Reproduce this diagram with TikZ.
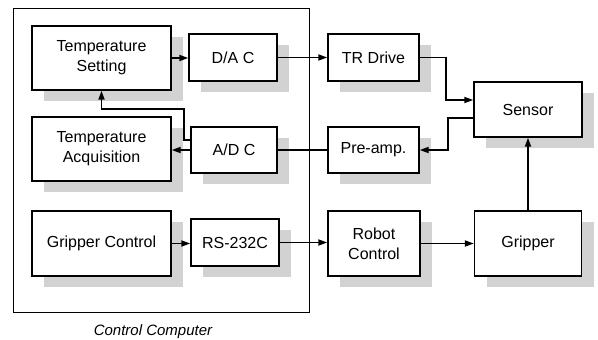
\documentclass[tikz,border=0pt]{standalone}
\usepackage{fontspec}
\setmainfont{Liberation Sans}
\usetikzlibrary{arrows.meta,shadows}

\begin{document}
\begin{tikzpicture}[x=1pt,y=-1pt,
	font=\fontsize{16}{20}\selectfont,
	block/.style={draw,line width=1.4pt,fill=white,align=center,inner sep=0pt,
		drop shadow={shadow xshift=12pt,shadow yshift=-11pt,fill=gray!35,opacity=1}},
	sig/.style={line width=1.7pt,-{Triangle[length=9pt,width=6pt]}}]
	\useasboundingbox (0,0) rectangle (598,340);
	\draw[line width=1pt] (13,8) rectangle (309,312);
	\node[font=\fontsize{15}{18}\selectfont\itshape] (cc) at (153,332) {Control Computer};
	\node[block,minimum width=139pt,minimum height=64pt] (tset) at (101.5,58) {Temperature\\Setting};
	\node[block,minimum width=139pt,minimum height=64pt] (tacq) at (101.5,149) {Temperature\\Acquisition};
	\node[block,minimum width=139pt,minimum height=65pt] (gctl) at (101.5,243.5) {Gripper Control};
	\node[block,minimum width=88pt,minimum height=47pt] (dac) at (233,57.5) {D/A C};
	\node[block,minimum width=86pt,minimum height=46pt] (adc) at (234,150) {A/D C};
	\node[block,minimum width=88pt,minimum height=47pt] (rs) at (235,242.5) {RS-232C};
	\node[block,minimum width=91pt,minimum height=47pt] (trd) at (373.5,57.5) {TR Drive};
	\node[block,minimum width=91pt,minimum height=46pt] (pre) at (373.5,150) {Pre-amp.};
	\node[block,minimum width=92pt,minimum height=65pt] (robot) at (374,243.5) {Robot\\Control};
	\node[block,minimum width=108pt,minimum height=55pt] (sensor) at (528,109.5) {Sensor};
	\node[block,minimum width=107pt,minimum height=65pt] (gripper) at (528,243.5) {Gripper};
	\draw[sig] (tset.east) -- (tset.east -| dac.west);
	\draw[sig] (dac.east) -- (trd.west);
	\draw[sig] (trd.east) -| ([xshift=-27pt,yshift=9.5pt]sensor.west) -- ([yshift=9.5pt]sensor.west);
	\draw[sig] ([yshift=-8.5pt]sensor.west) -| ([xshift=28pt]pre.east) -- (pre.east);
	\draw[line width=1.7pt] (pre.west) -- (adc.east);
	\draw[sig] (adc.west) -- (adc.west -| tacq.east);
	\draw[sig] ([yshift=10pt]adc.west) -- ++(-6,0) |- ([yshift=-18pt]tset.south) -- (tset.south);
	\draw[sig] (gctl.east) -- (gctl.east -| rs.west);
	\draw[sig] (rs.east) -- (rs.east -| robot.west);
	\draw[sig] (robot.east) -- (gripper.west);
	\draw[sig] (gripper.north) -- (sensor.south);
\end{tikzpicture}
\end{document}
